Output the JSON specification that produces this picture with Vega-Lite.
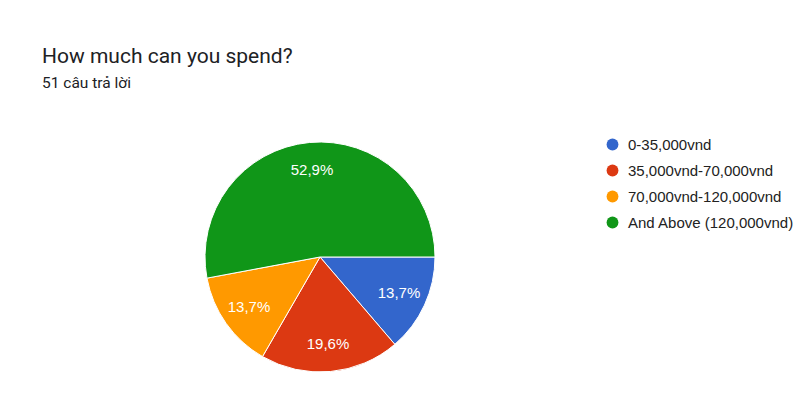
{
  "$schema": "https://vega.github.io/schema/vega-lite/v6.json",
  "width": 640,
  "height": 314,
  "autosize": "none",
  "padding": {"left": 0, "top": 100, "right": 171, "bottom": 6},
  "background": "white",
  "title": {
    "text": "How much can you spend?",
    "subtitle": "51 câu trả lời",
    "anchor": "start",
    "frame": "group",
    "dx": 42,
    "offset": 9,
    "font": "Roboto",
    "fontSize": 21,
    "fontWeight": "normal",
    "color": "#202124",
    "subtitleFont": "Roboto",
    "subtitleFontSize": 15.5,
    "subtitleColor": "#202124",
    "subtitlePadding": 9
  },
  "data": {
    "values": [
      {"answer": "0-35,000vnd", "count": 7, "label": "13,7%"},
      {"answer": "35,000vnd-70,000vnd", "count": 10, "label": "19,6%"},
      {"answer": "70,000vnd-120,000vnd", "count": 7, "label": "13,7%"},
      {"answer": "And Above (120,000vnd)", "count": 27, "label": "52,9%"}
    ]
  },
  "encoding": {
    "theta": {"field": "count", "type": "quantitative", "stack": true, "scale": {"range": [1.5707963, 7.8539816]}},
    "order": {"field": "answer", "sort": "ascending"},
    "color": {
      "field": "answer",
      "type": "nominal",
      "scale": {
        "domain": ["0-35,000vnd", "35,000vnd-70,000vnd", "70,000vnd-120,000vnd", "And Above (120,000vnd)"],
        "range": ["#3366cc", "#dc3912", "#ff9900", "#109618"]
      },
      "legend": {
        "orient": "none",
        "legendX": 605,
        "legendY": 37,
        "title": null,
        "symbolType": "circle",
        "symbolSize": 140,
        "symbolStrokeWidth": 0,
        "labelFont": "Liberation Sans",
        "labelFontSize": 15,
        "labelColor": "#222222",
        "labelLimit": 300,
        "rowPadding": 10,
        "labelOffset": 8
      }
    }
  },
  "layer": [
    {"mark": {"type": "arc", "outerRadius": 115, "stroke": "white", "strokeWidth": 1}},
    {
      "mark": {"type": "text", "radius": 87, "font": "Liberation Sans", "fontSize": 15},
      "encoding": {
        "text": {"field": "label"},
        "detail": {"field": "answer"},
        "color": {"value": "white"}
      }
    }
  ],
  "config": {"view": {"stroke": null}}
}
